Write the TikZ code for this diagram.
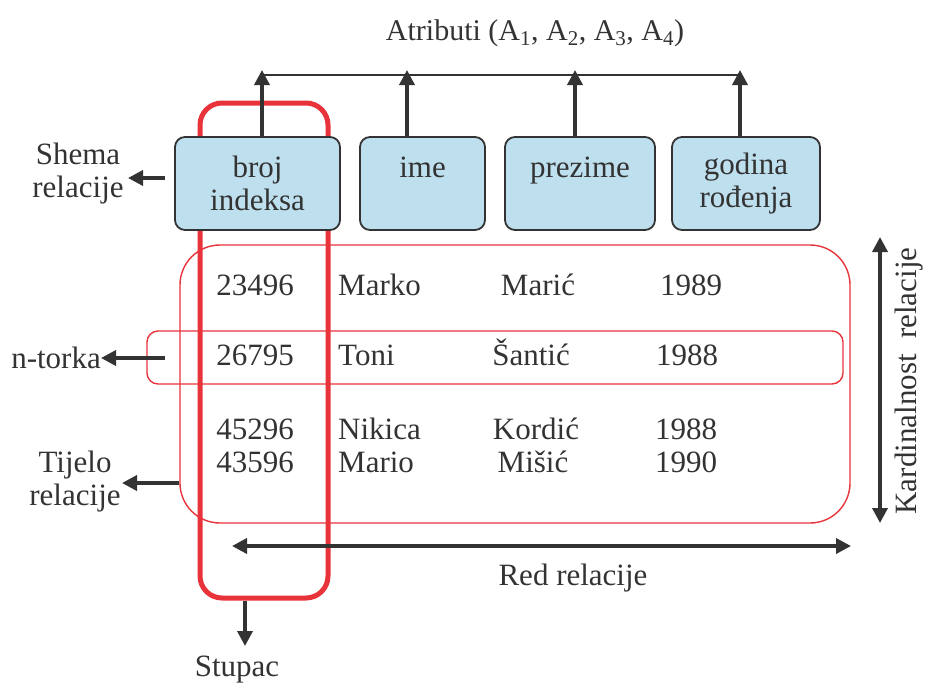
\documentclass[tikz,border=0pt]{standalone}
\usepackage{fontspec}
\setmainfont{Liberation Serif}
\usetikzlibrary{arrows.meta}
\definecolor{ink}{HTML}{333333}
\definecolor{hdrblue}{HTML}{BEDFEE}
\definecolor{relred}{HTML}{E8333A}
\tikzset{
  lbl/.style={text=ink, inner sep=0pt, align=center},
  datum/.style={text=ink, inner sep=0pt, text height=21pt, text depth=6pt},
  hdr/.style={draw=ink, line width=1.8pt, fill=hdrblue, rounded corners=10pt, text=ink, align=center, inner sep=0pt, minimum height=93pt},
  thinred/.style={draw=relred, line width=1.4pt},
  thickred/.style={draw=relred, line width=5pt},
  arr/.style={draw=ink, line width=3.5pt, -{Triangle[length=15pt,width=15pt]}},
  darr/.style={draw=ink, line width=3.5pt, {Triangle[length=15pt,width=15pt]}-{Triangle[length=15pt,width=15pt]}},
}
\begin{document}
\begin{tikzpicture}[x=1pt,y=-1pt, font=\fontsize{31}{33}\selectfont]
\useasboundingbox (0,0) rectangle (925,691);
% relation body and tuple
\node (body) [thinred, rounded corners=40pt, minimum width=670pt, minimum height=278pt, inner sep=0pt] at (515,384) {};
\node (tuple) [thinred, rounded corners=11pt, minimum width=696pt, minimum height=53pt, inner sep=0pt] at (495,357.5) {};
% column
\node (col) [thickred, rounded corners=22pt, minimum width=128pt, minimum height=495pt, inner sep=0pt] at (264,350.5) {};
% header boxes
\node (b1) [hdr, minimum width=165pt] at (257.5,183.5) {broj\\indeksa};
\node (b2) [hdr, minimum width=125pt] at (422.5,183.5) {ime\\\mbox{}};
\node (b3) [hdr, minimum width=150pt] at (580,183.5) {prezime\\\mbox{}};
\node (b4) [hdr, minimum width=148pt] at (746,183.5) {godina\\rođenja};
% attribute arrows
\coordinate (t1) at (262,70);
\coordinate (t2) at (407,70);
\coordinate (t3) at (575,70);
\coordinate (t4) at (740,70);
\coordinate (h1) at (262,75);
\coordinate (h4) at (740,75);
\draw[ink, line width=1.4pt] (h1) -- (h4);
\draw[arr] (b1.north -| t1) -- (t1);
\draw[arr] (b2.north -| t2) -- (t2);
\draw[arr] (b3.north -| t3) -- (t3);
\draw[arr] (b4.north -| t4) -- (t4);
\node (attr) [lbl, font=\fontsize{30}{33}\selectfont] at (535,33) {Atributi (A\textsubscript{1}, A\textsubscript{2}, A\textsubscript{3}, A\textsubscript{4})};
% data
\node (r1c1) [datum] at (255,288) {23496};
\node (r1c2) [datum, anchor=west] at (338,288) {Marko};
\node (r1c3) [datum] at (538,288) {Marić};
\node (r1c4) [datum] at (691,288) {1989};
\node (r2c1) [datum] at (255,358) {26795};
\node (r2c2) [datum, anchor=west] at (338,358) {Toni};
\node (r2c3) [datum] at (531,358) {Šantić};
\node (r2c4) [datum] at (687,358) {1988};
\node (r3c1) [datum] at (255,432) {45296};
\node (r3c2) [datum, anchor=west] at (338,432) {Nikica};
\node (r3c3) [datum] at (536,432) {Kordić};
\node (r3c4) [datum] at (686,432) {1988};
\node (r4c1) [datum] at (255,465) {43596};
\node (r4c2) [datum, anchor=west] at (338,465) {Mario};
\node (r4c3) [datum] at (533,465) {Mišić};
\node (r4c4) [datum] at (686,465) {1990};
% left labels
\node (shema) [lbl] at (78,174) {Shema\\relacije};
\coordinate (sh0) at (165,178);
\coordinate (sh1) at (128,178);
\draw[arr] (sh0) -- (sh1);
\node (ntorka) [lbl, anchor=east] at (101,358) {n-torka};
\coordinate (nt0) at (165,358);
\draw[arr] (nt0) -- (ntorka.east);
\node (tijelo) [lbl] at (75,482) {Tijelo\\relacije};
\coordinate (tj1) at (122,483);
\draw[arr] (body.west |- tj1) -- (tj1);
% column label
\node (stupac) [lbl] at (237,670) {Stupac};
\coordinate (st1) at (245,646);
\draw[arr] (col.south -| st1) -- (st1);
% red relacije
\coordinate (rr0) at (232,546);
\coordinate (rr1) at (851,546);
\draw[darr] (rr0) -- (rr1);
\node (red) [lbl] at (573,578) {Red relacije};
% kardinalnost
\coordinate (kk0) at (880,237);
\coordinate (kk1) at (880,523);
\draw[darr] (kk0) -- (kk1);
\node (kard) [lbl, rotate=90] at (909,381) {Kardinalnost\ \ relacije};
\end{tikzpicture}
\end{document}
